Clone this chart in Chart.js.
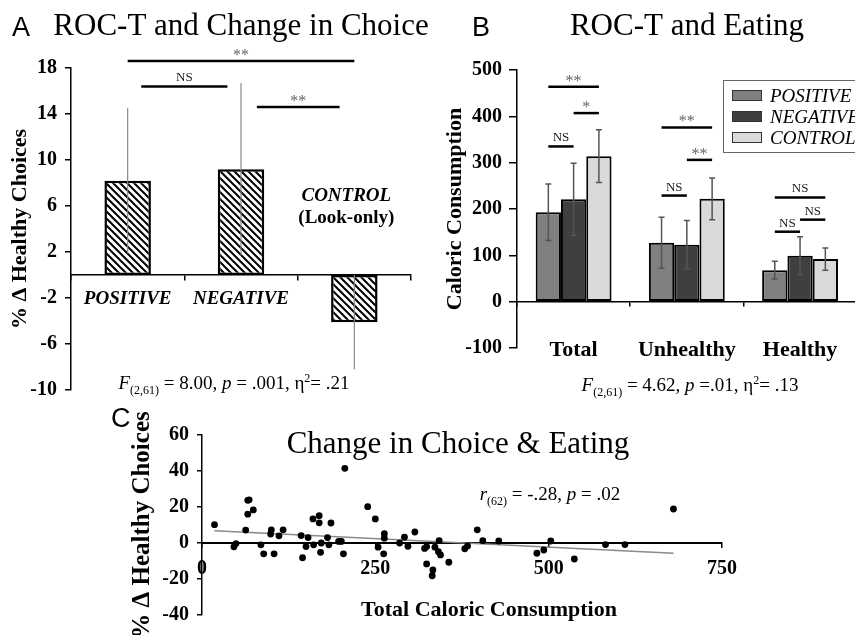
<!DOCTYPE html>
<html>
<head>
<meta charset="utf-8">
<script src="https://cdn.jsdelivr.net/npm/chart.js@4.4.0/dist/chart.umd.min.js"></script>
<style>
  html, body { margin: 0; padding: 0; background: #fff; overflow: hidden; }
  #wrap { position: relative; width: 855px; height: 635px; overflow: hidden; }
  canvas { position: absolute; }
</style>
</head>
<body>
<div id="wrap">
  <canvas id="chartA" width="430" height="410" style="left:0;top:0"></canvas>
  <canvas id="chartB" width="440" height="410" style="left:430px;top:0"></canvas>
  <canvas id="chartC" width="855" height="240" style="left:0;top:395px"></canvas>
</div>
<script>
const SERIF = '"Liberation Serif", "Times New Roman", serif';
const SANS = '"Liberation Sans", Arial, sans-serif';

// Panel A - % change in healthy choices
const choiceGroups = ['POSITIVE', 'NEGATIVE', 'CONTROL'];
const choiceChange = [8.2, 9.2, -4.1];
const choiceErr = [6.3, 7.5, 4.1];
const choiceTicks = [-10, -6, -2, 2, 6, 10, 14, 18];
// [from, to, y, label] - from/to in category units
const choiceSig = [[0, 2, 18.6, '**'], [0.12, 0.88, 16.4, 'NS'], [1.14, 1.87, 14.6, '**']];

// Panel B - caloric consumption
const eatCategories = ['Total', 'Unhealthy', 'Healthy'];
const eatGroups = ['POSITIVE', 'NEGATIVE', 'CONTROL'];
const eatPositive = [193, 127, 68];
const eatNegative = [221, 123, 99];
const eatControl = [314, 222, 92];
const errPositive = [61, 55, 19];
const errNegative = [78, 52, 41];
const errControl = [57, 45, 24];
const eatTicks = [-100, 0, 100, 200, 300, 400, 500];
// [category, from group, to group, y, label]
const eatSig = [
  [0, 0, 2, 464, '**'], [0, 1, 2, 407, '*'], [0, 0, 1, 335, 'NS'],
  [1, 0, 2, 376, '**'], [1, 1, 2, 306, '**'], [1, 0, 1, 229, 'NS'],
  [2, 0, 2, 225, 'NS'], [2, 1, 2, 177, 'NS'], [2, 0, 1, 151, 'NS']
];

// Panel C - change in choice vs total calories
const calories = [18, 46, 49, 66, 68, 66, 74, 63, 85, 89, 100, 99, 104, 111, 117, 143, 145, 150, 153, 160,
  169, 169, 161, 172, 171, 181, 186, 183, 197, 201, 206, 204, 239, 250, 263, 263, 254, 262, 285, 292,
  297, 307, 321, 324, 324, 333, 332, 336, 342, 341, 344, 356, 379, 383, 397, 405, 428, 483, 493, 503,
  537, 582, 610, 680];
const healthyDelta = [10.2, -2.1, -0.3, 23.7, 24, 16, 18.4, 7.2, -1, -6, 7.3, 5, -6, 4, 7.3, 4.1, -8.2, -2, 3, 13.4,
  15.2, 11.2, -1, 0, -5.2, 3, 11.1, -1, 0.9, 0.9, 41.5, -6, 20.2, 13.4, 5.2, 2.7, -2.3, -6, 0, 3.2,
  -1.8, 6.1, -3, -2, -11.6, -15, -18.2, -2.3, 1.3, -4.8, -6.6, -10.7, -3.2, -1.6, 7.3, 1.3, 1.1, -5.7, -3.9, 1.1,
  -8.9, -0.9, -0.9, 18.9];
const fitCalories = [18, 680];
const fitDelta = [6.8, -5.7];
const calTicks = [0, 250, 500, 750];
const deltaTicks = [-40, -20, 0, 20, 40, 60];

const barColors = ['#808080', '#3f3f3f', '#d9d9d9'];

function makeHatch() {
  const s = 7;
  const c = document.createElement('canvas');
  c.width = s; c.height = s;
  const g = c.getContext('2d');
  g.fillStyle = '#fff';
  g.fillRect(0, 0, s, s);
  g.strokeStyle = '#000';
  g.lineWidth = 2;
  g.beginPath();
  g.moveTo(-1, -1); g.lineTo(s + 1, s + 1);
  g.moveTo(s - 2, -2); g.lineTo(s + 2, 2);
  g.moveTo(-2, s - 2); g.lineTo(2, s + 2);
  g.stroke();
  return g.createPattern(c, 'repeat');
}

// draws a line of mixed text (italic, subscript, superscript) centred on cx
function drawRuns(ctx, runs, cx, y, size) {
  const fontFor = s => (s === 'i' ? 'italic ' : '') + ((s === 'sub' || s === 'sup') ? Math.round(size * 0.62) : size) + 'px ' + SERIF;
  let total = 0;
  runs.forEach(([t, s]) => { ctx.font = fontFor(s); total += ctx.measureText(t).width; });
  let x = cx - total / 2;
  ctx.textAlign = 'left';
  ctx.textBaseline = 'alphabetic';
  ctx.fillStyle = '#000';
  runs.forEach(([t, s]) => {
    ctx.font = fontFor(s);
    const dy = s === 'sub' ? size * 0.25 : s === 'sup' ? -size * 0.38 : 0;
    ctx.fillText(t, x, y + dy);
    x += ctx.measureText(t).width;
  });
}

function drawBracket(ctx, x1, x2, y, label) {
  ctx.save();
  ctx.strokeStyle = '#000';
  ctx.lineWidth = 2.5;
  ctx.beginPath();
  ctx.moveTo(x1, y); ctx.lineTo(x2, y);
  ctx.stroke();
  ctx.textAlign = 'center';
  ctx.textBaseline = 'alphabetic';
  if (label === 'NS') {
    ctx.font = '13px ' + SERIF;
    ctx.fillStyle = '#222';
    ctx.fillText(label, (x1 + x2) / 2, y - 5);
  } else {
    ctx.font = '16px ' + SERIF;
    ctx.fillStyle = '#666';
    ctx.fillText(label, (x1 + x2) / 2, y - 1);
  }
  ctx.restore();
}

const commonPlugins = { legend: { display: false }, tooltip: { enabled: false } };

const annotA = {
  id: 'annotA',
  afterDatasetsDraw(chart) {
    const ctx = chart.ctx, xs = chart.scales.x, ys = chart.scales.y;
    const meta = chart.getDatasetMeta(0);
    ctx.save();
    ctx.strokeStyle = '#888';
    ctx.lineWidth = 1.2;
    meta.data.forEach((bar, i) => {
      ctx.beginPath();
      ctx.moveTo(bar.x, ys.getPixelForValue(choiceChange[i] - choiceErr[i]));
      ctx.lineTo(bar.x, ys.getPixelForValue(choiceChange[i] + choiceErr[i]));
      ctx.stroke();
    });
    ctx.restore();
    choiceSig.forEach(([a, b, y, label]) => {
      drawBracket(ctx, xs.getPixelForValue(a), xs.getPixelForValue(b), ys.getPixelForValue(y), label);
    });
  },
  afterDraw(chart) {
    const ctx = chart.ctx, xs = chart.scales.x;
    ctx.save();
    ctx.fillStyle = '#000';
    ctx.textBaseline = 'alphabetic';
    ctx.textAlign = 'left';
    ctx.font = '27px ' + SANS;
    ctx.fillText('A', 12, 36);
    ctx.textAlign = 'center';
    ctx.font = '31px ' + SERIF;
    ctx.fillText('ROC-T and Change in Choice', 241, 35);
    const cx = xs.getPixelForValue(2) - 8;
    ctx.font = 'italic bold 19px ' + SERIF;
    ctx.textBaseline = 'middle';
    ctx.fillText(choiceGroups[2], cx, 196);
    ctx.font = 'bold 19px ' + SERIF;
    ctx.fillText('(Look-only)', cx, 218);
    drawRuns(ctx, [['F', 'i'], ['(2,61)', 'sub'], [' = 8.00, ', ''], ['p', 'i'], [' = .001, \u03B7', ''], ['2', 'sup'], ['= .21', '']], 234, 389, 19);
    ctx.restore();
  }
};

new Chart(document.getElementById('chartA'), {
  type: 'bar',
  data: {
    labels: choiceGroups,
    datasets: [{
      data: choiceChange,
      backgroundColor: makeHatch(),
      borderColor: '#000',
      borderWidth: 2.5,
      borderSkipped: false,
      barPercentage: 0.41,
      categoryPercentage: 1
    }]
  },
  options: {
    responsive: false,
    animation: false,
    layout: { padding: { left: 0, right: 19, top: 68, bottom: 19 } },
    plugins: commonPlugins,
    scales: {
      x: {
        position: { y: 0 },
        afterFit: s => { s.height = 0; },
        grid: { drawOnChartArea: false, tickLength: 5, color: '#000', lineWidth: 1.5 },
        border: { color: '#000', width: 1.5 },
        ticks: {
          padding: 8, color: '#000',
          font: { family: SERIF, size: 19, weight: 'bold', style: 'italic' },
          callback: (v, i) => i < 2 ? choiceGroups[i] : ''
        }
      },
      y: {
        min: -10, max: 18,
        afterBuildTicks: s => { s.ticks = choiceTicks.map(v => ({ value: v })); },
        afterFit: s => { s.width = 71; },
        grid: { drawOnChartArea: false, tickLength: 6, color: '#000', lineWidth: 1.5 },
        border: { color: '#000', width: 1.5 },
        ticks: { padding: 8, color: '#000', font: { family: SERIF, size: 20, weight: 'bold' } },
        title: { display: true, text: '% \u0394 Healthy Choices', color: '#000', padding: { top: 7 },
          font: { family: SERIF, size: 22, weight: 'bold' } }
      }
    }
  },
  plugins: [annotA]
});

const eatValues = [eatPositive, eatNegative, eatControl];
const eatErrors = [errPositive, errNegative, errControl];

const annotB = {
  id: 'annotB',
  afterDatasetsDraw(chart) {
    const ctx = chart.ctx, ys = chart.scales.y;
    ctx.save();
    ctx.strokeStyle = '#555';
    ctx.lineWidth = 1.5;
    eatValues.forEach((vals, d) => {
      chart.getDatasetMeta(d).data.forEach((bar, i) => {
        const top = ys.getPixelForValue(vals[i] + eatErrors[d][i]);
        const bot = ys.getPixelForValue(vals[i] - eatErrors[d][i]);
        ctx.beginPath();
        ctx.moveTo(bar.x, top); ctx.lineTo(bar.x, bot);
        ctx.moveTo(bar.x - 3, top); ctx.lineTo(bar.x + 3, top);
        ctx.moveTo(bar.x - 3, bot); ctx.lineTo(bar.x + 3, bot);
        ctx.stroke();
      });
    });
    ctx.restore();
    eatSig.forEach(([c, a, b, y, label]) => {
      const x1 = chart.getDatasetMeta(a).data[c].x;
      const x2 = chart.getDatasetMeta(b).data[c].x;
      drawBracket(ctx, x1, x2, ys.getPixelForValue(y), label);
    });
  },
  afterDraw(chart) {
    const ctx = chart.ctx;
    ctx.save();
    ctx.fillStyle = '#000';
    ctx.textBaseline = 'alphabetic';
    ctx.textAlign = 'left';
    ctx.font = '27px ' + SANS;
    ctx.fillText('B', 42, 36);
    ctx.textAlign = 'center';
    ctx.font = '31px ' + SERIF;
    ctx.fillText('ROC-T and Eating', 257, 35);
    // legend
    ctx.fillStyle = '#fff';
    ctx.fillRect(293.5, 80.5, 160, 72);
    ctx.strokeStyle = '#666';
    ctx.lineWidth = 1;
    ctx.strokeRect(293.5, 80.5, 160, 72);
    chart.data.datasets.forEach((ds, i) => {
      const y = 95.5 + i * 21;
      ctx.fillStyle = ds.backgroundColor;
      ctx.fillRect(302, y - 5.5, 30, 11);
      ctx.strokeStyle = '#333';
      ctx.strokeRect(302.5, y - 5, 29, 10);
      ctx.fillStyle = '#000';
      ctx.font = 'italic 19px ' + SERIF;
      ctx.textAlign = 'left';
      ctx.textBaseline = 'middle';
      ctx.fillText(ds.label, 340, y + 1);
    });
    drawRuns(ctx, [['F', 'i'], ['(2,61)', 'sub'], [' = 4.62, ', ''], ['p', 'i'], [' =.01, \u03B7', ''], ['2', 'sup'], ['= .13', '']], 260, 391, 19);
    ctx.restore();
  }
};

new Chart(document.getElementById('chartB'), {
  type: 'bar',
  data: {
    labels: eatCategories,
    datasets: eatGroups.map((g, i) => ({
      label: g,
      data: eatValues[i],
      backgroundColor: barColors[i],
      borderColor: '#000',
      borderWidth: 2,
      borderSkipped: false,
      barPercentage: 1,
      categoryPercentage: 0.67
    }))
  },
  options: {
    responsive: false,
    animation: false,
    layout: { padding: { left: 0, right: 10, top: 70, bottom: 62 } },
    plugins: commonPlugins,
    scales: {
      x: {
        position: { y: 0 },
        afterFit: s => { s.height = 0; },
        grid: { drawOnChartArea: false, tickLength: 4, color: '#000', lineWidth: 1.5 },
        border: { color: '#000', width: 1.5 },
        ticks: { padding: 31, color: '#000', font: { family: SERIF, size: 22, weight: 'bold' } }
      },
      y: {
        min: -100, max: 500,
        afterBuildTicks: s => { s.ticks = eatTicks.map(v => ({ value: v })); },
        afterFit: s => { s.width = 87; },
        grid: { drawOnChartArea: false, tickLength: 8, color: '#000', lineWidth: 1.5 },
        border: { color: '#000', width: 1.5 },
        ticks: { padding: 7, color: '#000', font: { family: SERIF, size: 20, weight: 'bold' } },
        title: { display: true, text: 'Caloric Consumption', color: '#000', padding: { top: 12 },
          font: { family: SERIF, size: 22, weight: 'bold' } }
      }
    }
  },
  plugins: [annotB]
});

const annotC = {
  id: 'annotC',
  afterDraw(chart) {
    const ctx = chart.ctx;
    ctx.save();
    ctx.fillStyle = '#000';
    ctx.textBaseline = 'alphabetic';
    ctx.textAlign = 'left';
    ctx.font = '27px ' + SANS;
    ctx.fillText('C', 111, 32);
    ctx.textAlign = 'center';
    ctx.font = '31px ' + SERIF;
    ctx.fillText('Change in Choice & Eating', 458, 58);
    ctx.font = 'bold 22px ' + SERIF;
    ctx.fillText('Total Caloric Consumption', 489, 221);
    drawRuns(ctx, [['r', 'i'], ['(62)', 'sub'], [' = -.28, ', ''], ['p', 'i'], [' = .02', '']], 550, 105, 19);
    ctx.restore();
  }
};

new Chart(document.getElementById('chartC'), {
  type: 'scatter',
  data: {
    datasets: [
      {
        data: calories.map((x, i) => ({ x: x, y: healthyDelta[i] })),
        pointRadius: 3.4,
        backgroundColor: '#000',
        borderWidth: 0
      },
      {
        type: 'line',
        data: fitCalories.map((x, i) => ({ x: x, y: fitDelta[i] })),
        borderColor: '#8a8a8a',
        borderWidth: 1.5,
        pointRadius: 0
      }
    ]
  },
  options: {
    responsive: false,
    animation: false,
    layout: { padding: { left: 122, right: 133, top: 40, bottom: 13 } },
    plugins: commonPlugins,
    scales: {
      x: {
        type: 'linear', min: 0, max: 750,
        position: { y: 0 },
        afterFit: s => { s.height = 0; },
        afterBuildTicks: s => { s.ticks = calTicks.map(v => ({ value: v })); },
        grid: { drawOnChartArea: false, tickLength: 4, color: '#000', lineWidth: 1.5 },
        border: { color: '#000', width: 2 },
        ticks: { padding: 10, color: '#000', font: { family: SERIF, size: 20, weight: 'bold' } }
      },
      y: {
        min: -40, max: 60,
        afterBuildTicks: s => { s.ticks = deltaTicks.map(v => ({ value: v })); },
        afterFit: s => { s.width = 80; },
        grid: { drawOnChartArea: false, tickLength: 5, color: '#000', lineWidth: 1.5 },
        border: { color: '#000', width: 1.5 },
        ticks: { padding: 8, color: '#000', font: { family: SERIF, size: 20, weight: 'bold' } },
        title: { display: true, text: '% \u0394 Healthy Choices', color: '#000', padding: { top: 6 },
          font: { family: SERIF, size: 25, weight: 'bold' } }
      }
    }
  },
  plugins: [annotC]
});
</script>
</body>
</html>
